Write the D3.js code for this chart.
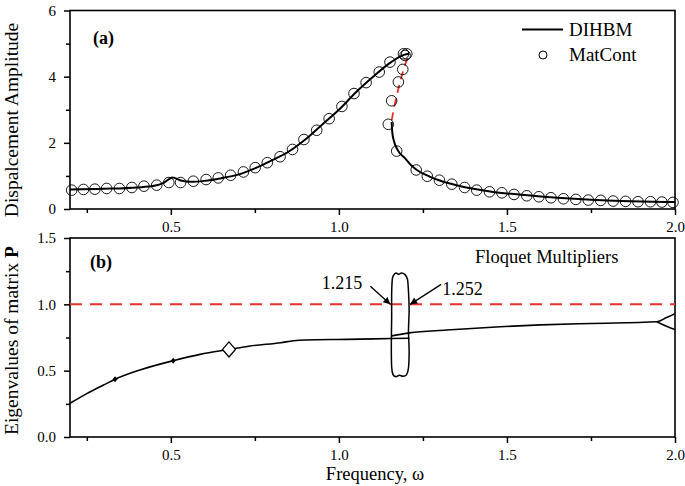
<!DOCTYPE html>
<html><head><meta charset="utf-8">
<script src="https://cdn.jsdelivr.net/npm/d3@7"></script>
<style>
html,body{margin:0;padding:0;background:#fff;}
svg{display:block;font-family:"Liberation Serif","Times New Roman",serif;}
</style></head>
<body><svg id="c" width="685" height="486"></svg>
<script>
// ---------- DATA ----------
const xTicksMajor = [0.5, 1.0, 1.5, 2.0];
const xTicksMinor = [0.25, 0.75, 1.25, 1.75];
const yTicksTop = [0, 2, 4, 6];
const yTicksTopMinor = [1, 3, 5];
const yTicksBot = [0.0, 0.5, 1.0, 1.5];
const yTicksBotMinor = [0.25, 0.75, 1.25];

// (a) DIHBM stable upper branch [freq, amplitude]
const dihbmUpper = [[0.2,0.59],[0.3,0.61],[0.4,0.65],[0.45,0.70],[0.48,0.80],[0.505,0.95],[0.53,0.86],[0.56,0.82],[0.6,0.85],[0.65,0.93],[0.7,1.04],[0.75,1.23],[0.8,1.47],[0.85,1.73],[0.9,2.1],[0.95,2.55],[1.0,3.0],[1.05,3.52],[1.1,3.98],[1.15,4.4],[1.18,4.6],[1.2,4.68],[1.21,4.69]];
// (a) DIHBM unstable branch (red dashed)
const dihbmUnstable = [[1.157,2.68],[1.165,3.1],[1.175,3.55],[1.185,3.95],[1.195,4.3],[1.205,4.57],[1.21,4.66]];
// (a) DIHBM stable lower branch
const dihbmLower = [[1.157,2.63],[1.159,2.3],[1.164,2.05],[1.175,1.78],[1.197,1.53],[1.215,1.32],[1.232,1.18],[1.27,0.98],[1.3,0.86],[1.35,0.72],[1.4,0.61],[1.45,0.53],[1.5,0.47],[1.6,0.38],[1.7,0.31],[1.8,0.26],[1.9,0.23],[2.0,0.21]];
// (a) MatCont points
const matcont = [[0.205,0.57],[0.240,0.59],[0.274,0.60],[0.309,0.62],[0.347,0.62],[0.384,0.65],[0.420,0.69],[0.458,0.72],[0.494,0.80],[0.529,0.80],[0.567,0.84],[0.605,0.89],[0.641,0.94],[0.678,1.02],[0.716,1.12],[0.751,1.25],[0.787,1.40],[0.825,1.58],[0.862,1.80],[0.896,2.10],[0.934,2.38],[0.971,2.73],[1.009,3.10],[1.045,3.49],[1.081,3.82],[1.12,4.14],[1.152,4.44],[1.192,4.69],[1.202,4.69],[1.197,4.64],[1.190,4.22],[1.177,3.84],[1.157,3.27],[1.147,2.56],[1.172,1.75],[1.230,1.18],[1.263,0.99],[1.299,0.87],[1.336,0.75],[1.374,0.65],[1.41,0.57],[1.448,0.52],[1.485,0.49],[1.521,0.44],[1.559,0.40],[1.595,0.37],[1.631,0.34],[1.668,0.31],[1.705,0.29],[1.742,0.27],[1.779,0.26],[1.816,0.24],[1.853,0.23],[1.890,0.22],[1.927,0.22],[1.961,0.21],[1.994,0.20]];

// (b) Floquet multipliers
const floqA = [[0.2,0.254],[0.25,0.327],[0.3,0.392],[0.334,0.435],[0.408,0.505],[0.507,0.575],[0.587,0.623],[0.673,0.66],[0.736,0.686],[0.827,0.711],[0.865,0.725],[0.9,0.731],[1.024,0.736],[1.157,0.742],[1.21,0.744]];
const floqB = [[1.157,0.762],[1.21,0.785],[1.321,0.806],[1.48,0.831],[1.6,0.845],[1.75,0.856],[1.946,0.869],[1.975,0.9],[2.0,0.93]];
const floqC = [[1.946,0.869],[1.975,0.835],[2.0,0.81]];
const floqLoop = [[1.163,1.22],[1.170,1.237],[1.178,1.226],[1.186,1.236],[1.196,1.226],[1.204,1.19],[1.207,1.1],[1.209,0.95],[1.207,0.8],[1.209,0.65],[1.207,0.52],[1.201,0.468],[1.19,0.458],[1.18,0.466],[1.17,0.455],[1.161,0.47],[1.157,0.53],[1.156,0.7],[1.157,0.9],[1.157,1.08],[1.159,1.19]];
const smallMarks = [[0.334,0.435],[0.507,0.575]];
const bigMark = [[0.673,0.66]];
const critLevel = 1.0;
const critLabels = ["1.215", "1.252"];

// ---------- LAYOUT ----------
const svg = d3.select("#c");
const L = 70, R = 675;
const top1 = 10.5, bot1 = 209, top2 = 238, bot2 = 437;
const x = d3.scaleLinear().domain([0.2, 2.0]).range([L, R]);
const yA = d3.scaleLinear().domain([0, 6]).range([bot1, top1]);
const yB = d3.scaleLinear().domain([0, 1.5]).range([bot2, top2]);
const red = "#e5322d";

svg.append("defs").html('<clipPath id="cA"><rect x="'+L+'" y="'+top1+'" width="'+(R-L)+'" height="'+(bot1-top1)+'"/></clipPath>'+
 '<clipPath id="cB"><rect x="'+L+'" y="'+top2+'" width="'+(R-L)+'" height="'+(bot2-top2)+'"/></clipPath>'+
 '<marker id="ah" viewBox="0 0 10 10" refX="10" refY="5" markerWidth="9" markerHeight="7" markerUnits="userSpaceOnUse" orient="auto"><path d="M0,0 L10,5 L0,10 z" fill="#000"/></marker>');

function axes(yScale, yTop, yBot, yMaj, yMin, yFmt) {
  const gx = svg.append("g").attr("transform", "translate(0," + yBot + ")")
    .call(d3.axisBottom(x).tickValues(xTicksMajor).tickFormat(d3.format(".1f")).tickSize(6).tickPadding(6));
  const gxm = svg.append("g").attr("transform", "translate(0," + yBot + ")")
    .call(d3.axisBottom(x).tickValues(xTicksMinor).tickFormat("").tickSize(4));
  const gy = svg.append("g").attr("transform", "translate(" + L + ",0)")
    .call(d3.axisLeft(yScale).tickValues(yMaj).tickFormat(yFmt).tickSize(6).tickPadding(8));
  const gym = svg.append("g").attr("transform", "translate(" + L + ",0)")
    .call(d3.axisLeft(yScale).tickValues(yMin).tickFormat("").tickSize(4));
  [gx, gxm, gy, gym].forEach(g => {
    g.select(".domain").remove();
    g.selectAll("line").attr("stroke", "#000").attr("stroke-width", 1.5);
    g.selectAll("text").attr("font-size", 15).attr("fill", "#000").attr("font-family", "Liberation Serif");
  });
  svg.append("rect").attr("x", L).attr("y", yTop).attr("width", R - L).attr("height", yBot - yTop)
    .attr("fill", "none").attr("stroke", "#000").attr("stroke-width", 1.6);
}
axes(yA, top1, bot1, yTicksTop, yTicksTopMinor, d3.format("d"));
axes(yB, top2, bot2, yTicksBot, yTicksBotMinor, d3.format(".1f"));

// ---------- PANEL (a) ----------
const lineA = d3.line().x(d => x(d[0])).y(d => yA(d[1])).curve(d3.curveMonotoneX);
const gA = svg.append("g").attr("clip-path", "url(#cA)");
gA.append("path").attr("d", lineA(dihbmUpper)).attr("fill", "none").attr("stroke", "#000").attr("stroke-width", 2);
gA.append("path").attr("d", lineA(dihbmLower)).attr("fill", "none").attr("stroke", "#000").attr("stroke-width", 2);
gA.append("path").attr("d", lineA(dihbmUnstable)).attr("fill", "none").attr("stroke", red).attr("stroke-width", 1.8).attr("stroke-dasharray", "8,6");
svg.append("g").selectAll("circle").data(matcont).join("circle")
  .attr("cx", d => x(d[0])).attr("cy", d => yA(d[1])).attr("r", 5.3)
  .attr("fill", "none").attr("stroke", "#000").attr("stroke-width", 0.9);

// legend
svg.append("line").attr("x1", 522).attr("x2", 563).attr("y1", 29.5).attr("y2", 29.5).attr("stroke", "#000").attr("stroke-width", 2);
svg.append("text").attr("x", 569).attr("y", 35.5).attr("font-size", 19).text("DIHBM");
svg.append("circle").attr("cx", 543).attr("cy", 55).attr("r", 4).attr("fill", "none").attr("stroke", "#000").attr("stroke-width", 1);
svg.append("text").attr("x", 569).attr("y", 60.5).attr("font-size", 19).text("MatCont");
svg.append("text").attr("x", 93).attr("y", 44).attr("font-size", 18).attr("font-weight", "bold").text("(a)");

// ---------- PANEL (b) ----------
const gB = svg.append("g").attr("clip-path", "url(#cB)");
gB.append("line").attr("x1", L).attr("x2", R).attr("y1", yB(critLevel)).attr("y2", yB(critLevel))
  .attr("stroke", red).attr("stroke-width", 2).attr("stroke-dasharray", "12,8");
const lineB = d3.line().x(d => x(d[0])).y(d => yB(d[1])).curve(d3.curveMonotoneX);
[floqA, floqB, floqC].forEach(s => gB.append("path").attr("d", lineB(s)).attr("fill", "none").attr("stroke", "#000").attr("stroke-width", 1.6));
const loopLine = d3.line().x(d => x(d[0])).y(d => yB(d[1])).curve(d3.curveCardinalClosed.tension(0.3));
gB.append("path").attr("d", loopLine(floqLoop)).attr("fill", "none").attr("stroke", "#000").attr("stroke-width", 1.5);
const diamond = (w, h) => `M0,${-h}L${w},0L0,${h}L${-w},0Z`;
svg.append("g").selectAll("path").data(smallMarks).join("path")
  .attr("transform", d => `translate(${x(d[0])},${yB(d[1])})`).attr("d", diamond(2.5, 3)).attr("fill", "#000");
svg.append("g").selectAll("path").data(bigMark).join("path")
  .attr("transform", d => `translate(${x(d[0])},${yB(d[1])})`).attr("d", diamond(6.5, 7.5))
  .attr("fill", "#fff").attr("stroke", "#000").attr("stroke-width", 1.3);

// annotations (arrows to the crossings of the loop with the critical level)
const loopLeft = d3.min(floqLoop, d => d[0]), loopRight = d3.max(floqLoop, d => d[0]);
svg.append("line").attr("x1", x(loopLeft) - 21).attr("y1", yB(critLevel) - 18)
  .attr("x2", x(loopLeft) - 1).attr("y2", yB(critLevel)).attr("stroke", "#000").attr("stroke-width", 1.3).attr("marker-end", "url(#ah)");
svg.append("line").attr("x1", x(loopRight) + 32).attr("y1", yB(critLevel) - 20)
  .attr("x2", x(loopRight) + 1).attr("y2", yB(critLevel)).attr("stroke", "#000").attr("stroke-width", 1.3).attr("marker-end", "url(#ah)");
svg.append("text").attr("x", x(loopLeft) - 29).attr("y", yB(critLevel) - 15).attr("text-anchor", "end").attr("font-size", 18).text(critLabels[0]);
svg.append("text").attr("x", x(loopRight) + 33).attr("y", yB(critLevel) - 9).attr("font-size", 18).text(critLabels[1]);
svg.append("text").attr("x", 475).attr("y", 263).attr("font-size", 18.5).text("Floquet Multipliers");
svg.append("text").attr("x", 90).attr("y", 268).attr("font-size", 18).attr("font-weight", "bold").text("(b)");

// axis titles
svg.append("text").attr("transform", "translate(18," + 120 + ") rotate(-90)").attr("text-anchor", "middle")
  .attr("font-size", 19.5).text("Dispalcement Amplitude");
const tB = svg.append("text").attr("transform", "translate(18," + ((top2 + bot2) / 2 + 3) + ") rotate(-90)").attr("text-anchor", "middle").attr("font-size", 19.5);
tB.append("tspan").text("Eigenvalues of matrix ");
tB.append("tspan").attr("font-weight", "bold").text("P");
svg.append("text").attr("x", 375).attr("y", 480).attr("text-anchor", "middle").attr("font-size", 18.5).text("Frequency,  ω");
</script></body></html>
